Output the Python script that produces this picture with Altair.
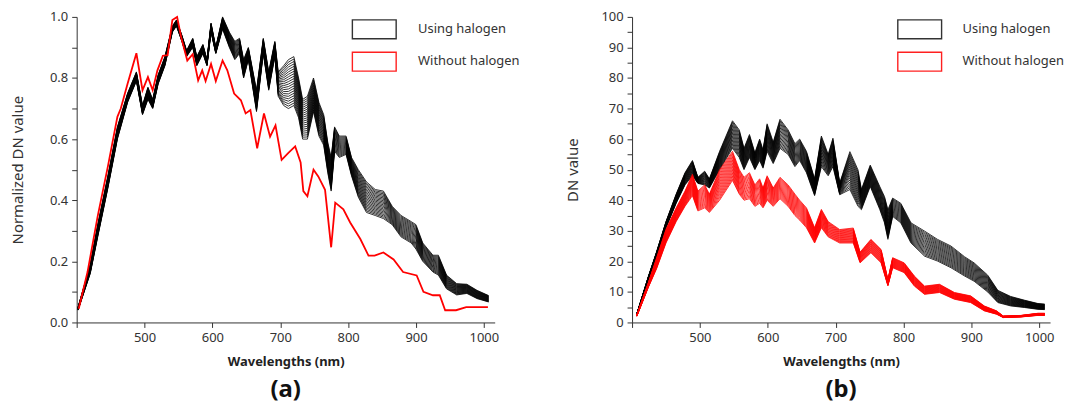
import altair as alt
import pandas as pd

FONT = "Noto Sans"

# ---------------- panel (a): normalized DN ----------------
A_BLACK_WL = [402, 420, 431, 446, 460, 475, 488, 497, 505, 512, 520, 530, 541, 547, 555, 562, 571, 577, 586, 592,
              598, 605, 615, 625, 633, 640, 646, 653, 665, 675, 683, 692, 697, 705, 712, 720, 727, 733, 740, 749,
              757, 764, 770, 775, 780, 787, 797, 805, 815, 827, 840, 852, 865, 878, 893, 900, 910, 925, 933, 945,
              960, 975, 990, 1007]
A_BLACK_LO = [0.04, 0.16, 0.28, 0.44, 0.60, 0.72, 0.79, 0.68, 0.73, 0.70, 0.78, 0.84, 0.95, 0.97, 0.92, 0.87, 0.90, 0.84, 0.88, 0.84,
              0.95, 0.88, 0.96, 0.90, 0.86, 0.88, 0.80, 0.86, 0.69, 0.88, 0.76, 0.87, 0.74, 0.71, 0.70, 0.71, 0.67, 0.60, 0.60, 0.69,
              0.61, 0.58, 0.49, 0.43, 0.56, 0.54, 0.55, 0.48, 0.41, 0.36, 0.35, 0.34, 0.32, 0.28, 0.26, 0.24, 0.20, 0.165, 0.155, 0.11,
              0.09, 0.095, 0.078, 0.067]
A_BLACK_HI = [0.05, 0.19, 0.32, 0.48, 0.64, 0.75, 0.82, 0.71, 0.77, 0.73, 0.81, 0.87, 0.97, 0.99, 0.94, 0.89, 0.93, 0.87, 0.91, 0.86,
              0.98, 0.90, 1.00, 0.95, 0.92, 0.93, 0.86, 0.90, 0.76, 0.93, 0.82, 0.92, 0.82, 0.84, 0.86, 0.87, 0.80, 0.73, 0.74, 0.80,
              0.72, 0.68, 0.59, 0.54, 0.64, 0.61, 0.61, 0.54, 0.50, 0.46, 0.435, 0.43, 0.38, 0.35, 0.33, 0.32, 0.26, 0.22, 0.22, 0.155,
              0.127, 0.125, 0.105, 0.088]

A_RED_WL = [403, 416, 431, 446, 460, 465, 475, 488, 497, 505, 512, 519, 527, 534, 541, 548, 554, 563, 571, 579,
            585, 590, 598, 605, 615, 622, 632, 642, 649, 656, 666, 676, 685, 693, 702, 712, 722, 730, 734, 740,
            749, 756, 766, 775, 781, 793, 803, 818, 830, 839, 852, 867, 881, 901, 911, 925, 935, 943, 959, 974,
            993, 1006]
A_RED = [0.045, 0.165, 0.348, 0.511, 0.673, 0.70, 0.781, 0.881, 0.76, 0.803, 0.76, 0.825, 0.873, 0.875, 0.99, 1.0, 0.933, 0.857, 0.878, 0.792,
         0.825, 0.79, 0.846, 0.79, 0.857, 0.825, 0.749, 0.727, 0.684, 0.695, 0.570, 0.684, 0.608, 0.645, 0.532, 0.555, 0.576, 0.524, 0.43, 0.413,
         0.50, 0.478, 0.434, 0.246, 0.392, 0.37, 0.327, 0.273, 0.219, 0.219, 0.229, 0.206, 0.165, 0.154, 0.10, 0.089, 0.089, 0.04, 0.04, 0.05,
         0.05, 0.05]

# ---------------- panel (b): DN value ----------------
B_BLACK_WL = [407, 424, 436, 450, 465, 478, 489, 497, 507, 514, 529, 548, 558, 565, 573, 581, 588, 593, 599, 608,
              618, 630, 640, 647, 657, 669, 679, 689, 696, 706, 721, 733, 738, 751, 765, 772, 777, 784, 796, 811,
              831, 850, 870, 890, 904, 924, 939, 958, 978, 998, 1008]
B_BLACK_HI = [2.8, 15, 23, 33, 42, 49, 53, 47.5, 49.5, 47, 56, 66, 63, 57, 61.5, 55.5, 60, 56.5, 65, 59,
              66.5, 63, 58.5, 60, 56, 47, 61, 55, 60.3, 45.6, 55.9, 49.9, 43.5, 51.5, 44.5, 41.2, 36.9, 40.7, 39, 32.6,
              29.9, 27.2, 25, 21.5, 19.5, 15.5, 10.5, 8.5, 7.3, 6.2, 6.0]
B_BLACK_LO = [2.5, 14, 21.5, 31, 39, 45, 48, 45.5, 45, 44, 50, 57, 54, 50, 54, 50, 53, 50.5, 56, 52,
              57, 55, 51, 53, 49, 41.5, 51, 48, 51, 41.8, 43.5, 38, 36.9, 44.5, 37, 32.6, 27.2, 34.7, 32.6, 26,
              21.7, 20.1, 17.9, 15.2, 13.5, 10, 6.5, 5.4, 4.9, 4.3, 4.2]

B_RED_WL = [407, 424, 436, 450, 465, 478, 489, 497, 507, 514, 529, 548, 558, 565, 573, 581, 588, 593, 599, 608,
            618, 630, 640, 647, 657, 669, 679, 689, 706, 726, 736, 752, 767, 777, 784, 801, 816, 831, 853, 875,
            899, 919, 937, 947, 973, 998, 1008]
B_RED_HI = [2.5, 13, 21, 30.5, 37.5, 43, 48.5, 43, 45, 42, 50, 56, 50, 47.5, 49, 45, 47, 44, 48, 44,
            47.5, 45, 42, 40, 37.5, 31, 37, 33, 30.4, 30.9, 23, 27.2, 23.9, 14, 21.2, 19.5, 15.2, 11.9, 12.5, 9.8,
            8.7, 5.4, 3.8, 2.1, 2.3, 3.0, 3.0]
B_RED_LO = [2.0, 11.5, 17.5, 26, 33, 38, 41.5, 36.5, 37.5, 36, 40, 46.5, 42, 40, 40.5, 38, 39, 37.5, 40, 38,
            40.5, 38, 35, 33.5, 31, 26, 31, 28, 26, 26, 19.5, 22.8, 19.5, 12, 17.9, 16.3, 11.9, 9.2, 9.8, 7.6,
            6.5, 3.8, 2.7, 1.6, 1.8, 2.3, 2.3]

LINE_POS = [0.0, 0.05, 0.1, 0.15, 0.2, 0.25, 0.3, 0.35, 0.4, 0.45, 0.5,
            0.55, 0.6, 0.65, 0.7, 0.75, 0.8, 0.85, 0.9, 0.95, 1.0]

SERIES = ["Using halogen", "Without halogen"]
COLORS = ["#000000", "#ff0000"]
X_TICKS = [400, 500, 600, 700, 800, 900, 1000]


def bundle(wl, lo, hi, series, positions):
    rows = []
    for i, f in enumerate(positions):
        for w, l, h in zip(wl, lo, hi):
            rows.append({"wl": w, "val": l + f * (h - l), "curve": f"{series}-{i}", "series": series})
    return rows


def single(wl, vals, series):
    return [{"wl": w, "val": v, "curve": f"{series}-0", "series": series} for w, v in zip(wl, vals)]


df_a = pd.DataFrame(bundle(A_BLACK_WL, A_BLACK_LO, A_BLACK_HI, SERIES[0], LINE_POS) +
                    single(A_RED_WL, A_RED, SERIES[1]))
df_b = pd.DataFrame(bundle(B_BLACK_WL, B_BLACK_LO, B_BLACK_HI, SERIES[0], LINE_POS) +
                    bundle(B_RED_WL, B_RED_LO, B_RED_HI, SERIES[1], LINE_POS))

W, H = 420, 307


def make_panel(df, ydom, yvals, ylabel_expr, ytitle, ytitle_pad, letter, red_width, leg_x, txt_x):
    x = alt.X("wl:Q",
              scale=alt.Scale(domain=[400, 1016], nice=False, zero=False),
              axis=alt.Axis(values=X_TICKS, labelExpr="datum.value == 400 ? '' : format(datum.value, 'd')",
                            title="Wavelengths (nm)", titleFontWeight="bold", titleFontSize=13,
                            titleColor="#222", titlePadding=11, labelPadding=4))
    y = alt.Y("val:Q",
              scale=alt.Scale(domain=ydom, nice=False, zero=False),
              axis=alt.Axis(values=yvals, labelExpr=ylabel_expr, title=ytitle,
                            titleFontWeight="normal", titleFontSize=15, titleColor="#333",
                            titlePadding=ytitle_pad, labelPadding=4))
    color = alt.Color("series:N", scale=alt.Scale(domain=SERIES, range=COLORS), legend=None)

    base = alt.Chart(df).encode(x=x, y=y, color=color, detail="curve:N")
    black = base.transform_filter(alt.datum.series == SERIES[0]).mark_line(strokeWidth=0.8)
    red = base.transform_filter(alt.datum.series == SERIES[1]).mark_line(strokeWidth=red_width)

    leg1 = pd.DataFrame({"label": [SERIES[0]]})
    leg2 = pd.DataFrame({"label": [SERIES[1]]})
    r1 = alt.Chart(leg1).mark_rect(fill="white", stroke="#333333", strokeWidth=1.4).encode(
        x=alt.value(leg_x), x2=alt.value(leg_x + 44), y=alt.value(3), y2=alt.value(22))
    r2 = alt.Chart(leg2).mark_rect(fill="white", stroke="#ff2020", strokeWidth=1.4).encode(
        x=alt.value(leg_x), x2=alt.value(leg_x + 44), y=alt.value(35.5), y2=alt.value(54.5))
    t1 = alt.Chart(leg1).mark_text(align="left", baseline="middle", font=FONT, fontSize=13, color="#333").encode(
        x=alt.value(txt_x), y=alt.value(12.5), text="label:N")
    t2 = alt.Chart(leg2).mark_text(align="left", baseline="middle", font=FONT, fontSize=13, color="#333").encode(
        x=alt.value(txt_x), y=alt.value(44.5), text="label:N")

    return alt.layer(black, red, r1, r2, t1, t2).properties(
        width=W, height=H,
        title=alt.Title(letter, orient="bottom", fontSize=24, fontWeight="bold", font=FONT,
                        color="#111", offset=10))


panel_a = make_panel(df_a, [0, 1.0], [round(i * 0.1, 1) for i in range(11)],
                     "(round(datum.value * 10) % 2 == 0) ? format(datum.value, '.1f') : ''",
                     "Normalized DN value", 24, "(a)", 1.8, 277, 343)
panel_b = make_panel(df_b, [0, 100], list(range(0, 101, 5)),
                     "(datum.value % 10 == 0) ? format(datum.value, 'd') : ''",
                     "DN value", 20, "(b)", 0.8, 267, 332)

chart = alt.hconcat(panel_a, panel_b, spacing=45).properties(
    padding={"left": 2, "top": 2, "right": 2, "bottom": 2},
    background="white"
).configure_view(stroke=None).configure_axis(
    grid=False, domainColor="#333", domainWidth=1, tickColor="#333", tickSize=5, tickWidth=1,
    labelFont=FONT, titleFont=FONT, labelFontSize=13, labelColor="#333"
)

chart.save("out.html", embed_options={"renderer": "svg", "actions": False})
